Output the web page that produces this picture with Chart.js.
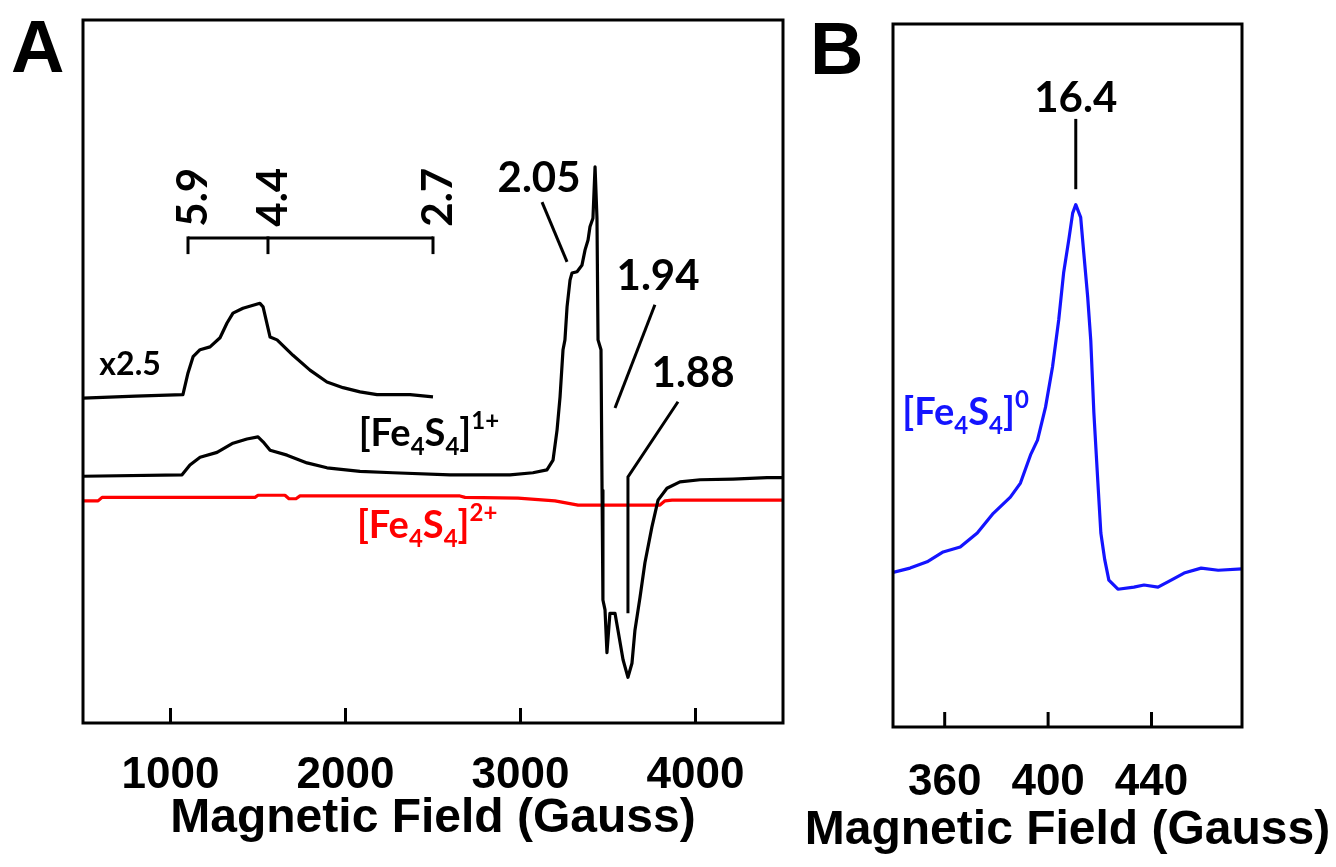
<!DOCTYPE html>
<html><head><meta charset="utf-8">
<script src="https://cdn.jsdelivr.net/npm/chart.js@4.4.1/dist/chart.umd.min.js"></script>
<style>
html,body{margin:0;padding:0;background:#fff;}
body{width:1336px;height:867px;position:relative;overflow:hidden;}
#ca{position:absolute;left:0;top:0;}
#cb{position:absolute;left:790px;top:0;}
</style></head><body>
<canvas id="ca" width="800" height="867"></canvas>
<canvas id="cb" width="546" height="867"></canvas>
<script>
// ---------------- DATA ----------------
// Panel A : magnetic field (Gauss) and EPR intensity (arbitrary units)
const fieldX25 = [500, 800, 1071, 1100, 1129, 1169, 1226, 1283, 1323, 1357, 1414, 1511, 1529, 1569, 1609, 1700, 1797, 1894, 1986, 2083, 2180, 2271, 2369, 2500];
const intX25   = [46.2, 46.5, 46.7, 49.8, 52.1, 53.1, 53.5, 54.8, 56.9, 58.3, 59.0, 59.7, 59.2, 54.9, 54.5, 52.3, 50.2, 48.5, 47.7, 47.1, 46.7, 46.7, 46.7, 46.4];

const field1p = [500,1066,1111,1169,1266,1357,1437,1500,1529,1569,1666,1780,1894,2083,2271,2597,2940,3071,3151,3186,3209,3226,3243,3254,3266,3283,3294,3323,3351,3369,3386,3397,3414,3426,3437,3443,3460,3466,3471,3483,3494,3511,3540,3557,3586,3614,3637,3654,3683,3711,3751,3786,3837,3911,4026,4214,4409,4500];
const int1p   = [35.1,35.3,36.7,37.8,38.5,39.8,40.4,40.7,40.0,38.8,38.1,37.0,36.3,35.8,35.6,35.3,35.3,35.6,36.0,37.4,41.7,46.4,53.1,54.5,59.2,63.0,64.0,64.2,65.1,67.3,68.7,70.6,71.8,79.1,71.8,54.5,53.1,33.1,17.5,16.1,10.0,15.6,15.6,13.2,9.0,6.5,8.5,13.2,17.9,22.8,27.9,31.7,33.4,34.3,34.6,34.7,34.9,34.9];

const field2p = [500, 586, 609, 1483, 1500, 1654, 1677, 1717, 1740, 2654, 2683, 2986, 3197, 3329, 3797, 3826, 3866, 4500];
const int2p   = [31.6, 31.6, 32.1, 32.1, 32.4, 32.4, 31.9, 31.9, 32.3, 32.3, 32.1, 32.0, 31.6, 31.0, 31.0, 31.6, 31.7, 31.7];

const ticksA = [1000, 2000, 3000, 4000];
const gBracketFields = [1100, 1557, 2500];
const gBracketLabels = ['5.9', '4.4', '2.7'];

// Panel B
const fieldB = [340,346.6,353.2,359.4,366.0,372.6,378.8,385.4,389.3,393.2,395.9,399.0,401.7,404.1,406.0,408.0,409.5,410.7,412.6,413.8,415.3,416.5,417.7,419.2,420.4,421.9,423.5,427.0,433.2,437.1,442.5,447.6,452.6,459.2,465.8,475];
const intB   = [22.0,22.6,23.5,24.9,25.6,27.6,30.4,32.7,34.7,38.7,40.8,45.5,51.2,57.9,64.6,69.3,73.1,74.3,72.5,67.4,61.2,55.0,44.7,35.1,27.6,23.8,20.9,19.6,19.9,20.2,19.9,20.9,21.9,22.6,22.3,22.5];
const ticksB = [360, 400, 440];

const xTitle = 'Magnetic Field (Gauss)';

// ---------------- HELPERS ----------------
const pts = (xs, ys) => xs.map((v, i) => ({x: v, y: ys[i]}));
const ANNO = 'Lato, "Open Sans", sans-serif';
const AXF = '"Liberation Sans", Arial, sans-serif';
Chart.defaults.font.family = AXF;

function chem(ctx, x, y, parts, color, size) {
  ctx.fillStyle = color;
  ctx.textAlign = 'left';
  ctx.textBaseline = 'alphabetic';
  let cx = x;
  const small = Math.round(size * 0.62);
  parts.forEach(([t, k]) => {
    ctx.font = 'bold ' + (k === 0 ? size : small) + 'px ' + ANNO;
    const dy = k < 0 ? size * 0.24 : (k > 0 ? -size * 0.45 : 0);
    ctx.fillText(t, cx, y + dy);
    cx += ctx.measureText(t).width;
  });
}
function line(ctx, p) {
  ctx.beginPath();
  ctx.moveTo(p[0][0], p[0][1]);
  for (let i = 1; i < p.length; i++) ctx.lineTo(p[i][0], p[i][1]);
  ctx.stroke();
}

const framePlugin = {
  id: 'frame',
  afterDraw(chart, args, opts) {
    const {ctx, chartArea: a, scales: {x}} = chart;
    ctx.save();
    ctx.strokeStyle = '#000';
    ctx.lineWidth = 3;
    ctx.strokeRect(a.left, a.top, a.right - a.left, a.bottom - a.top);
    x.ticks.forEach(t => {
      const px = x.getPixelForValue(t.value);
      line(ctx, [[px, a.bottom], [px, a.bottom - 15]]);
    });
    // panel letter
    ctx.fillStyle = '#000';
    ctx.font = 'bold 74px ' + AXF;
    ctx.textAlign = 'left';
    ctx.textBaseline = 'alphabetic';
    ctx.fillText(opts.letter, opts.lx, opts.ly);
    if (opts.title) {
      ctx.font = 'bold 48px ' + AXF;
      ctx.textAlign = 'center';
      ctx.textBaseline = 'middle';
      ctx.fillText(xTitle, (a.left + a.right) / 2, opts.titleY);
    }
    ctx.restore();
  }
};

const annoA = {
  id: 'annoA',
  afterDatasetsDraw(chart) {
    const {ctx, scales: {x, y}} = chart;
    const X = v => x.getPixelForValue(v), Y = v => y.getPixelForValue(v);
    ctx.save();
    ctx.strokeStyle = '#000';
    ctx.lineWidth = 3;
    // g-value bracket
    const yb = Y(69.0), yt = Y(66.7);
    line(ctx, [[X(gBracketFields[0]), yb], [X(gBracketFields[2]), yb]]);
    gBracketFields.forEach(f => line(ctx, [[X(f), yb - 1.5], [X(f), yt]]));
    ctx.fillStyle = '#000';
    ctx.font = 'bold 42px ' + ANNO;
    gBracketLabels.forEach((t, i) => {
      ctx.save();
      ctx.translate(X(gBracketFields[i]) + 19, Y(70.6));
      ctx.rotate(-Math.PI / 2);
      ctx.textAlign = 'left';
      ctx.textBaseline = 'alphabetic';
      ctx.fillText(t, 0, 0);
      ctx.restore();
    });
    // g labels with leader lines
    ctx.textAlign = 'center';
    ctx.textBaseline = 'alphabetic';
    ctx.fillText('2.05', X(3106), Y(75.5));
    ctx.fillText('1.94', X(3786), Y(61.6));
    ctx.fillText('1.88', X(3986), Y(47.8));
    line(ctx, [[X(3123), Y(74.1)], [X(3266), Y(65.6)]]);
    line(ctx, [[X(3768), Y(59.5)], [X(3540), Y(44.8)]]);
    line(ctx, [[X(3900), Y(45.7)], [X(3614), Y(35.0)], [X(3614), Y(15.6)]]);
    ctx.font = 'bold 32px ' + ANNO;
    ctx.fillText('x2.5', X(769), Y(49.5));
    chem(ctx, X(2075), Y(39.4), [['[Fe', 0], ['4', -1], ['S', 0], ['4', -1], [']', 0], ['1+', 1]], '#000', 38);
    chem(ctx, X(2065), Y(26.3), [['[Fe', 0], ['4', -1], ['S', 0], ['4', -1], [']', 0], ['2+', 1]], '#ff0000', 38);
    ctx.restore();
  }
};

const annoB = {
  id: 'annoB',
  afterDatasetsDraw(chart) {
    const {ctx, scales: {x, y}} = chart;
    const X = v => x.getPixelForValue(v), Y = v => y.getPixelForValue(v);
    ctx.save();
    ctx.strokeStyle = '#000';
    ctx.lineWidth = 3;
    ctx.fillStyle = '#000';
    ctx.font = 'bold 42px ' + ANNO;
    ctx.textAlign = 'center';
    ctx.textBaseline = 'alphabetic';
    ctx.fillText('16.4', X(410.7), Y(87.5));
    line(ctx, [[X(410.7), Y(86.5)], [X(410.7), Y(76.5)]]);
    chem(ctx, X(343.6), Y(43.0), [['[Fe', 0], ['4', -1], ['S', 0], ['4', -1], [']', 0], ['0', 1]], '#1414ff', 38);
    ctx.restore();
  }
};

function xScale(min, max, ticks, pad, height, showTitle) {
  return {
    type: 'linear', min: min, max: max,
    afterBuildTicks: s => { s.ticks = ticks.map(v => ({value: v})); },
    afterFit: s => { s.height = height; },
    grid: {display: false, drawTicks: false},
    border: {display: false},
    ticks: {color: '#000', font: {size: 44, weight: 'bold'}, padding: pad, maxRotation: 0, minRotation: 0, autoSkip: false,
            callback: v => String(v)},
    title: {display: showTitle, text: xTitle, color: '#000', font: {size: 48, weight: 'bold'}, padding: {top: 0, bottom: 19}}
  };
}
const yScale = {type: 'linear', min: 0, max: 100, display: false};
const ds = (data, color) => ({data: data, borderColor: color, borderWidth: 3.2, pointRadius: 0, tension: 0, fill: false, borderJoinStyle: 'round'});

new Chart(document.getElementById('ca'), {
  type: 'line',
  data: {datasets: [
    ds(pts(fieldX25, intX25), '#000'),
    ds(pts(field1p, int1p), '#000'),
    ds(pts(field2p, int2p), '#ff0000')
  ]},
  options: {
    responsive: false, animation: false,
    layout: {padding: {left: 83, right: 17, top: 20, bottom: 0}},
    plugins: {legend: {display: false}, tooltip: {enabled: false}, frame: {letter: 'A', lx: 11, ly: 72, title: false}},
    scales: {x: xScale(500, 4500, ticksA, 26, 144, true), y: yScale}
  },
  plugins: [framePlugin, annoA]
});

new Chart(document.getElementById('cb'), {
  type: 'line',
  data: {datasets: [ds(pts(fieldB, intB), '#1414ff')]},
  options: {
    responsive: false, animation: false,
    layout: {padding: {left: 103, right: 94, top: 24, bottom: 0}},
    plugins: {legend: {display: false}, tooltip: {enabled: false}, frame: {letter: 'B', lx: 20, ly: 74, title: true, titleY: 831}},
    scales: {x: xScale(340, 475, ticksB, 29, 140, false), y: yScale}
  },
  plugins: [framePlugin, annoB]
});
</script>
</body></html>
